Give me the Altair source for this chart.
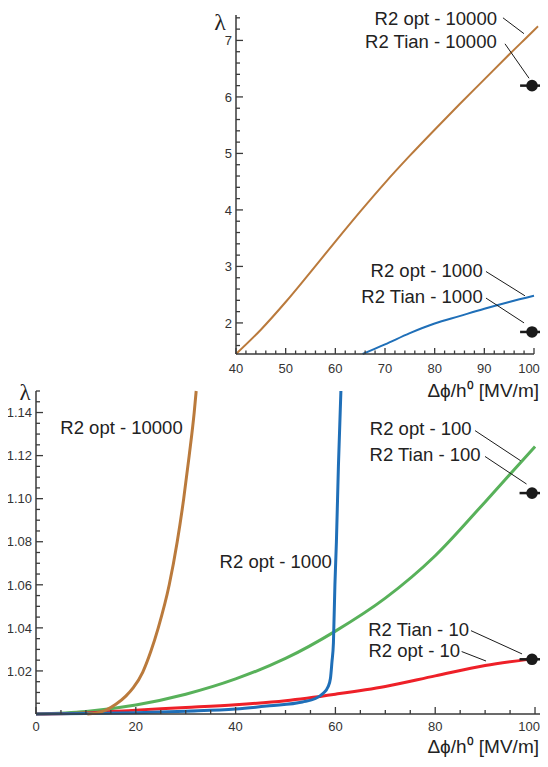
import altair as alt
import pandas as pd

# ---------------- data: top panel ----------------
top_x_10000 = [40, 45, 50, 55, 60, 65, 70, 75, 80, 85, 90, 95, 100, 100.8]
top_lam_10000 = [1.45, 1.88, 2.37, 2.9, 3.44, 3.97, 4.48, 4.96, 5.42, 5.87, 6.31, 6.75, 7.18, 7.25]
top_x_1000 = [65.5, 70, 75, 80, 85, 90, 95, 100]
top_lam_1000 = [1.45, 1.62, 1.82, 1.99, 2.12, 2.25, 2.37, 2.48]
top_tian_x = [99.6, 99.6]
top_tian_lam = [6.2, 1.84]
top_tian_err = [2.4, 2.4]

top_label_text = ["R2 opt - 10000", "R2 Tian - 10000", "R2 opt - 1000", "R2 Tian - 1000"]
top_label_x = [92.55, 92.5, 89.67, 89.67]
top_label_lam = [7.27, 6.86, 2.81, 2.36]
top_lead_x = [93.75, 94.16, 90.33, 90.33]
top_lead_lam = [7.40, 6.94, 2.91, 2.44]
top_lead_x2 = [97.98, 99.0, 98.18, 98.0]
top_lead_lam2 = [7.12, 6.33, 2.48, 2.0]

top_x_domain = [40, 100]
top_y_domain = [1.45, 7.45]
top_xticks_major = [40, 50, 60, 70, 80, 90]
top_xtick_labels = ["40", "50", "60", "70", "80", "90"]
top_xtick_last = [100]
top_xtick_last_label = ["100"]
top_xticks_minor = [42, 44, 46, 48, 52, 54, 56, 58, 62, 64, 66, 68, 72, 74, 76, 78,
                    82, 84, 86, 88, 92, 94, 96, 98]
top_yticks_major = [2, 3, 4, 5, 6, 7]
top_ytick_labels = ["2", "3", "4", "5", "6", "7"]
top_yticks_minor = [1.6, 1.8, 2.2, 2.4, 2.6, 2.8, 3.2, 3.4, 3.6, 3.8, 4.2, 4.4, 4.6, 4.8,
                    5.2, 5.4, 5.6, 5.8, 6.2, 6.4, 6.6, 6.8, 7.2, 7.4]

# ---------------- data: bottom panel ----------------
bot_x_10000 = [10.3, 12, 14, 16, 18, 19.5, 21.4, 23, 24.5, 26.7, 28.3, 29.6, 30.7, 31.7, 32.1]
bot_lam_10000 = [1.0, 1.0004, 1.0018, 1.0045, 1.0083, 1.0122, 1.0195, 1.029, 1.04, 1.06,
                 1.08, 1.10, 1.12, 1.14, 1.15]
bot_x_1000 = [0, 10, 20, 30, 40, 46.8, 53.4, 56, 57.5, 58.5, 59.0, 59.3, 59.6, 59.9, 60.2, 60.6, 61.1]
bot_lam_1000 = [1.0, 1.0002, 1.0006, 1.0013, 1.0023, 1.0038, 1.0056, 1.0072, 1.0095, 1.0125,
                1.0165, 1.024, 1.033, 1.06, 1.08, 1.115, 1.15]
bot_x_100 = [0, 10, 20, 30, 40, 50, 60, 70, 80, 90, 100]
bot_lam_100 = [1.0, 1.0012, 1.0042, 1.0092, 1.0163, 1.0258, 1.0385, 1.0538, 1.0735, 1.0985, 1.1242]
bot_x_10 = [0, 10, 20, 30, 40, 50, 60, 70, 80, 90, 99.4]
bot_lam_10 = [1.0, 1.0005, 1.0018, 1.003, 1.0043, 1.0062, 1.0092, 1.0128, 1.0177, 1.0225, 1.0256]
bot_tian_x = [99.4, 99.4]
bot_tian_lam = [1.1026, 1.0254]
bot_tian_err = [2.5, 2.5]

bot_label_text = ["R2 opt - 10000", "R2 opt - 1000", "R2 opt - 100", "R2 Tian - 100",
                  "R2 Tian - 10", "R2 opt - 10"]
bot_label_x = [29.4, 59.26, 87.3, 89.1, 86.77, 84.97]
bot_label_lam = [1.1301, 1.0678, 1.1294, 1.1176, 1.0363, 1.0266]
bot_lead_x = [87.98, 89.98, 87.17, 85.3]
bot_lead_lam = [1.1316, 1.1196, 1.0387, 1.029]
bot_lead_x2 = [97.13, 98.3, 97.4, 90.18]
bot_lead_lam2 = [1.1176, 1.1068, 1.0279, 1.0246]

bot_x_domain = [0, 102]
bot_y_domain = [1.0, 1.15]
bot_xticks_major = [0, 20, 40, 60, 80, 100]
bot_xtick_labels = ["0", "20", "40", "60", "80"]
bot_xtick_last = [100]
bot_xtick_last_label = ["100"]
bot_xticks_minor = [5, 10, 15, 25, 30, 35, 45, 50, 55, 65, 70, 75, 85, 90, 95]
bot_yticks_major = [1.02, 1.04, 1.06, 1.08, 1.10, 1.12, 1.14]
bot_ytick_labels = ["1.02", "1.04", "1.06", "1.08", "1.10", "1.12", "1.14"]
bot_yticks_minor = [1.005, 1.01, 1.015, 1.025, 1.03, 1.035, 1.045, 1.05, 1.055, 1.065, 1.07,
                    1.075, 1.085, 1.09, 1.095, 1.105, 1.11, 1.115, 1.125, 1.13, 1.135, 1.145, 1.15]

y_title = "λ"
x_title = "Δϕ/h⁰ [MV/m]"

# ---------------- styling ----------------
W, H = 532, 750
SANS = "Liberation Sans"
SERIF = "Liberation Serif"
AX = "#3a3a3a"
TXT = "#222222"
BROWN, BLUE, GREEN, RED = "#BA7A3C", "#1F6FB8", "#58B15A", "#EE2028"

top_xs = alt.Scale(domain=top_x_domain, range=[228, 526], nice=False, zero=False)
top_ys = alt.Scale(domain=top_y_domain, range=[346, 7], nice=False, zero=False)
bot_xs = alt.Scale(domain=bot_x_domain, range=[28, 537], nice=False, zero=False)
bot_ys = alt.Scale(domain=bot_y_domain, range=[706, 383], nice=False, zero=False)


def curve(xv, yv, xs, ys, color, width):
    df = pd.DataFrame({"x": xv, "lam": yv, "i": range(len(xv))})
    return alt.Chart(df).mark_line(color=color, strokeWidth=width, interpolate="monotone").encode(
        x=alt.X("x:Q", scale=xs, axis=None),
        y=alt.Y("lam:Q", scale=ys, axis=None),
        order="i:Q",
    )


def segs(x1, y1, x2, y2, xs, ys, color, width):
    df = pd.DataFrame({"x": x1, "lam": y1, "x2": x2, "lam2": y2})
    return alt.Chart(df).mark_rule(color=color, strokeWidth=width).encode(
        x=alt.X("x:Q", scale=xs, axis=None), y=alt.Y("lam:Q", scale=ys, axis=None),
        x2="x2:Q", y2="lam2:Q")


def axis_lines(xdom, ydom, xs, ys):
    return segs([xdom[0], xdom[0]], [ydom[0], ydom[0]], [xdom[1], xdom[0]], [ydom[0], ydom[1]],
                xs, ys, AX, 1.5)


def yticks(vals, xs, ys, x0, size):
    df = pd.DataFrame({"v": vals})
    return alt.Chart(df).mark_tick(orient="horizontal", size=size, thickness=1.3, color=AX,
                                   xOffset=size / 2, opacity=1).encode(
        x=alt.XDatum(x0, scale=xs, axis=None, type="quantitative"),
        y=alt.Y("v:Q", scale=ys, axis=None),
    )


def xticks(vals, xs, ys, y0, size):
    df = pd.DataFrame({"v": vals})
    return alt.Chart(df).mark_tick(orient="vertical", size=size, thickness=1.3, color=AX,
                                   yOffset=-size / 2, opacity=1).encode(
        x=alt.X("v:Q", scale=xs, axis=None),
        y=alt.YDatum(y0, scale=ys, axis=None, type="quantitative"),
    )


def xlabels(vals, texts, xs, ys, y0, dy, dx=0):
    df = pd.DataFrame({"v": vals, "t": texts})
    return alt.Chart(df).mark_text(align="center", baseline="alphabetic", dy=dy, dx=dx, font=SANS,
                                   fontSize=13, color="#333333").encode(
        x=alt.X("v:Q", scale=xs, axis=None),
        y=alt.YDatum(y0, scale=ys, axis=None, type="quantitative"),
        text="t:N")


def ylabels(vals, texts, xs, ys, x0):
    df = pd.DataFrame({"v": vals, "t": texts})
    return alt.Chart(df).mark_text(align="right", baseline="alphabetic", dx=-4, dy=4.7, font=SANS,
                                   fontSize=13, color="#333333").encode(
        x=alt.XDatum(x0, scale=xs, axis=None, type="quantitative"),
        y=alt.Y("v:Q", scale=ys, axis=None),
        text="t:N")


def note(text, xv, yv, xs, ys, **kw):
    df = pd.DataFrame({"t": [text]})
    return alt.Chart(df).mark_text(baseline="alphabetic", color=TXT, **kw).encode(
        x=alt.XDatum(xv, scale=xs, axis=None, type="quantitative"),
        y=alt.YDatum(yv, scale=ys, axis=None, type="quantitative"),
        text="t:N")


def tian(xv, yv, err, xs, ys):
    df = pd.DataFrame({"x": xv, "lam": yv, "e": err})
    df["lo"] = df["x"] - df["e"]
    df["hi"] = df["x"] + df["e"]
    bars = alt.Chart(df).mark_rule(color="#1a1a1a", strokeWidth=2.5).encode(
        x=alt.X("lo:Q", scale=xs, axis=None), x2="hi:Q",
        y=alt.Y("lam:Q", scale=ys, axis=None))
    dots = alt.Chart(df).mark_circle(color="#1a1a1a", size=135, opacity=1).encode(
        x=alt.X("x:Q", scale=xs, axis=None), y=alt.Y("lam:Q", scale=ys, axis=None))
    return bars + dots


def labels(texts, xv, yv, xs, ys):
    df = pd.DataFrame({"t": texts, "x": xv, "lam": yv})
    return alt.Chart(df).mark_text(align="right", baseline="alphabetic", font=SANS,
                                   fontSize=18.5, color=TXT).encode(
        x=alt.X("x:Q", scale=xs, axis=None), y=alt.Y("lam:Q", scale=ys, axis=None), text="t:N")


top = alt.layer(
    curve(top_x_10000, top_lam_10000, top_xs, top_ys, BROWN, 2),
    curve(top_x_1000, top_lam_1000, top_xs, top_ys, BLUE, 2),
    axis_lines(top_x_domain, top_y_domain, top_xs, top_ys),
    yticks(top_yticks_major, top_xs, top_ys, top_x_domain[0], 7),
    yticks(top_yticks_minor, top_xs, top_ys, top_x_domain[0], 4),
    xticks(top_xticks_major + top_xtick_last, top_xs, top_ys, top_y_domain[0], 6),
    xticks(top_xticks_minor, top_xs, top_ys, top_y_domain[0], 3.5),
    xlabels(top_xticks_major, top_xtick_labels, top_xs, top_ys, top_y_domain[0], 19),
    xlabels(top_xtick_last, top_xtick_last_label, top_xs, top_ys, top_y_domain[0], 19, dx=-5),
    ylabels(top_yticks_major, top_ytick_labels, top_xs, top_ys, top_x_domain[0]),
    note(y_title, top_x_domain[0], top_y_domain[1], top_xs, top_ys, align="center",
         dx=-16, dy=15, font=SERIF, fontSize=24),
    note(x_title, 100, top_y_domain[0], top_xs, top_ys, align="right",
         dx=5, dy=43, font=SANS, fontSize=19),
    segs(top_lead_x, top_lead_lam, top_lead_x2, top_lead_lam2, top_xs, top_ys, "#1a1a1a", 1),
    tian(top_tian_x, top_tian_lam, top_tian_err, top_xs, top_ys),
    labels(top_label_text, top_label_x, top_label_lam, top_xs, top_ys),
)

bottom = alt.layer(
    curve(bot_x_100, bot_lam_100, bot_xs, bot_ys, GREEN, 3),
    curve(bot_x_10, bot_lam_10, bot_xs, bot_ys, RED, 3),
    curve(bot_x_1000, bot_lam_1000, bot_xs, bot_ys, BLUE, 3),
    curve(bot_x_10000, bot_lam_10000, bot_xs, bot_ys, BROWN, 3),
    axis_lines(bot_x_domain, bot_y_domain, bot_xs, bot_ys),
    yticks(bot_yticks_major, bot_xs, bot_ys, bot_x_domain[0], 7),
    yticks(bot_yticks_minor, bot_xs, bot_ys, bot_x_domain[0], 4),
    xticks(bot_xticks_major, bot_xs, bot_ys, bot_y_domain[0], 7),
    xticks(bot_xticks_minor, bot_xs, bot_ys, bot_y_domain[0], 4),
    xlabels(bot_xticks_major[:-1], bot_xtick_labels, bot_xs, bot_ys, bot_y_domain[0], 17),
    xlabels(bot_xtick_last, bot_xtick_last_label, bot_xs, bot_ys, bot_y_domain[0], 17, dx=-6),
    ylabels(bot_yticks_major, bot_ytick_labels, bot_xs, bot_ys, bot_x_domain[0]),
    note(y_title, bot_x_domain[0], bot_y_domain[1], bot_xs, bot_ys, align="center",
         dx=-11, dy=9, font=SERIF, fontSize=23),
    note(x_title, bot_x_domain[1], bot_y_domain[0], bot_xs, bot_ys, align="right",
         dx=-6, dy=39, font=SANS, fontSize=19),
    segs(bot_lead_x, bot_lead_lam, bot_lead_x2, bot_lead_lam2, bot_xs, bot_ys, "#1a1a1a", 1),
    tian(bot_tian_x, bot_tian_lam, bot_tian_err, bot_xs, bot_ys),
    labels(bot_label_text, bot_label_x, bot_label_lam, bot_xs, bot_ys),
)

chart = alt.layer(top, bottom).resolve_scale(x="independent", y="independent").properties(
    width=W, height=H, padding=0, autosize=alt.AutoSizeParams(type="none"),
    background="white",
).configure_view(stroke=None)

chart.save("out.html", embed_options={"renderer": "svg", "actions": False})
